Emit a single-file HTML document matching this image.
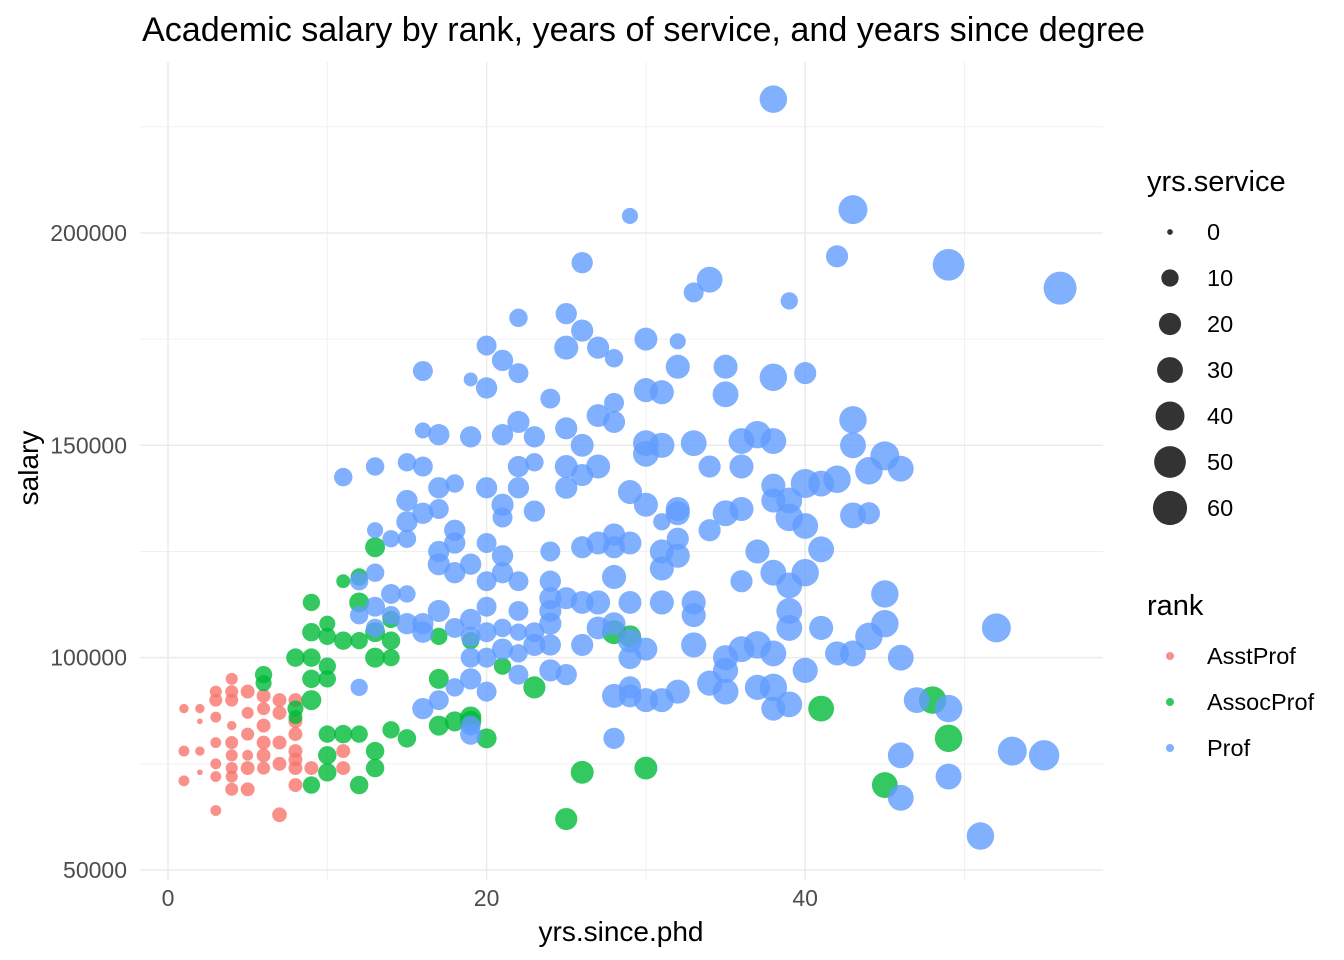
<!DOCTYPE html>
<html><head><meta charset="utf-8">
<style>
body{margin:0;background:#fff;}
svg{display:block;font-family:"Liberation Sans",sans-serif;}
</style></head>
<body>
<svg id="chart" width="1344" height="960">
<rect width="1344" height="960" fill="#fff"/>
<g id="grid"></g>
<g id="pts"></g>
<g id="axes"></g>
<text x="142" y="41" font-size="34" textLength="1003" lengthAdjust="spacingAndGlyphs" fill="#000">Academic salary by rank, years of service, and years since degree</text>
<text x="621" y="941" font-size="28" text-anchor="middle" fill="#000">yrs.since.phd</text>
<text transform="translate(38,468) rotate(-90)" font-size="28" text-anchor="middle" fill="#000">salary</text>
<g id="legend"></g>
</svg>
<script>
const xTicks=[0,20,40];
const yTicks=[50000,100000,150000,200000];
const sizeLegend=[0,10,20,30,40,50,60];
const ranks=["AsstProf","AssocProf","Prof"];
const rankColors=["#F8766D","#00BA38","#619CFF"];
const profPts=[[38,231.5,35],[43,205.5,40],[29,204,8],[49,192.5,50],[56,187,55],[42,194.5,20],[26,193,18],[34,189,30],[33,186,15],[39,184,10],[25,181,18],[22,180,12],[26,177,20],[27,173,20],[25,173,25],[20,173.5,15],[21,170,18],[30,175,22],[32,174.5,8],[28,170.5,12],[22,167,15],[16,167.5,15],[35,168.5,25],[32,168.5,25],[40,167,20],[38,166,35],[19,165.5,5],[20,163.5,18],[30,163,25],[31,162.5,25],[35,162,30],[24,161,15],[28,160,15],[25,154,20],[22,155.5,20],[21,152.5,18],[19,152,18],[17,152.5,18],[16,153.5,8],[23,152,18],[28,155.5,20],[27,157,22],[43,156,35],[30,150.5,30],[31,150,28],[33,150.5,30],[36,151,30],[37,152.5,35],[38,151,30],[43,150,30],[45,147.5,40],[46,144.5,30],[44,144,35],[42,142,35],[41,141,30],[40,141,40],[38,140.5,25],[36,145,25],[34,145,20],[30,148,30],[26,150,22],[25,145,22],[23,146,12],[22,145,18],[22,140,18],[25,140,20],[29,139,25],[30,136,25],[27,145,25],[26,143,20],[21,136,20],[20,140,18],[17,140,18],[18,141,12],[15,146,12],[16,145,15],[13,145,12],[11,142.5,12],[15,137,18],[16,134,18],[17,135,15],[15,132,18],[21,133,15],[23,134.5,18],[31,132,10],[32,135,25],[32,134,25],[34,130,20],[35,134,30],[36,135,25],[38,137,25],[39,137,30],[39,133,35],[40,131,30],[41,125.5,30],[43,133.5,30],[44,134,20],[13,130,8],[14,128,10],[15,128,12],[18,130,18],[18,127,18],[20,127,15],[21,124,18],[17,125,18],[17,122,20],[18,120,18],[19,122,18],[20,118,15],[21,120,18],[22,118,15],[24,125,15],[24,118,18],[26,126,20],[27,127,22],[28,126,20],[28,129,20],[29,127,22],[31,125,25],[32,128,20],[32,124,25],[31,121,25],[37,125,25],[38,120,30],[39,117,30],[40,120,35],[36,118,20],[28,119,25],[26,113,22],[27,113,25],[29,113,22],[31,113,25],[33,110,25],[33,113,25],[24,111,20],[24,108,20],[22,111,15],[20,112,15],[19,109,18],[17,111,20],[16,108,18],[15,108,18],[14,110,12],[13,112,15],[13,107,12],[12,110,12],[12,118,12],[13,120,12],[14,115,15],[15,115,10],[16,106,18],[18,107,15],[20,106,15],[21,107,12],[22,106,10],[23,103,20],[25,114,20],[24,114,20],[24,103,18],[26,103,20],[27,107,22],[28,108,22],[29,104,25],[30,102,22],[33,103,28],[35,100,28],[36,102,30],[37,103,35],[38,101,30],[39,111,30],[39,107,30],[40,97,28],[41,107,25],[42,101,25],[43,101,30],[44,105,35],[45,108,35],[45,115,35],[46,100,30],[47,90,30],[49,88,35],[46,77,30],[49,72,30],[46,67,30],[51,58,35],[53,78,40],[55,77,45],[52,107,40],[19,105,15],[19,100,15],[19,95,18],[18,93,12],[17,90,15],[16,88,18],[12,93,10],[20,92,15],[20,100,15],[21,102,18],[22,96,15],[25,96,18],[24,97,20],[28,91,25],[29,91,22],[30,90,25],[29,93,20],[31,90,25],[32,92,25],[34,94,28],[35,92,30],[37,93,28],[38,93,35],[38,88,25],[39,89,30],[28,81,18],[29,100,22],[35,97,28],[22,101,12],[23,106,15],[19,84,15],[19,82,18]];
const assocPts=[[13,126,15],[12,119,10],[11,118,5],[12,113,15],[9,113,10],[14,109,10],[10,108,8],[9,106,12],[11,104,12],[12,104,10],[13,106,15],[14,104,12],[10,105,10],[8,100,12],[9,100,12],[10,98,10],[13,100,15],[14,100,10],[10,95,10],[9,95,12],[6,96,10],[6,94,8],[9,90,15],[8,88,8],[8,86,5],[10,82,10],[11,82,12],[12,82,10],[10,77,12],[10,73,12],[9,70,10],[12,70,12],[13,74,12],[13,78,12],[14,83,10],[15,81,12],[17,84,15],[18,85,15],[19,86,18],[19,85,18],[20,81,15],[21,98,10],[17,95,15],[17,105,10],[19,104,10],[23,93,20],[28,106,25],[29,105,20],[25,62,20],[26,73,22],[30,74,22],[41,88,30],[45,70,30],[48,90,35],[49,81,35]];
const asstPts=[[1,88,1],[1,78,2],[1,71,2],[2,88,1],[2,85,0],[2,78,1],[2,73,0],[3,92,3],[3,90,4],[3,86,2],[3,80,2],[3,75,2],[3,72,2],[3,64,2],[4,95,3],[4,92,4],[4,90,4],[4,84,1],[4,80,4],[4,77,3],[4,74,3],[4,72,3],[4,69,4],[5,92,5],[5,87,3],[5,82,4],[5,77,2],[5,74,5],[5,69,5],[6,91,5],[6,88,4],[6,84,5],[6,80,5],[6,77,5],[6,74,4],[7,90,5],[7,87,5],[7,80,5],[7,75,5],[7,63,6],[8,90,5],[8,85,5],[8,82,5],[8,78,5],[8,76,5],[8,74,5],[8,70,5],[9,74,5],[11,78,5],[11,74,5]];

const NS="http://www.w3.org/2000/svg";
const X=v=>168+v*15.93;
const Y=v=>870-(v-50000)*0.004247;
const R=s=>2.85*(1+5*Math.sqrt(s/60));
const PL=140, PR=1103, PT=62, PB=880;
function mk(tag,attrs,parent){const e=document.createElementNS(NS,tag);for(const k in attrs)e.setAttribute(k,attrs[k]);parent.appendChild(e);return e;}
const grid=document.getElementById('grid');
[10,30,50].forEach(v=>{const l=mk('line',{x1:X(v),x2:X(v),y1:PT,y2:PB,stroke:'#f0f0f0','stroke-width':1},grid);

});
[75000,125000,175000,225000].forEach(v=>{const l=mk('line',{x1:PL,x2:PR,y1:Y(v),y2:Y(v),stroke:'#f0f0f0','stroke-width':1},grid);

});
xTicks.forEach(v=>{const l=mk('line',{x1:X(v),x2:X(v),y1:PT,y2:PB,stroke:'#ebebeb','stroke-width':1.5},grid);

});
yTicks.forEach(v=>{const l=mk('line',{x1:PL,x2:PR,y1:Y(v),y2:Y(v),stroke:'#ebebeb','stroke-width':1.5},grid);

});
const axes=document.getElementById('axes');
xTicks.forEach(v=>{const t=mk('text',{x:X(v),y:906,'font-size':23,'text-anchor':'middle',fill:'#4d4d4d'},axes);t.textContent=v;

});
yTicks.forEach(v=>{const t=mk('text',{x:127,y:Y(v)+8,'font-size':23,'text-anchor':'end',fill:'#4d4d4d'},axes);t.textContent=v;

});
const pts=document.getElementById('pts');
[[asstPts,0],[assocPts,1],[profPts,2]].forEach(([arr,ri])=>{
 arr.forEach(p=>{const c=mk('circle',{cx:X(p[0]),cy:Y(p[1]*1000),r:R(p[2]),fill:rankColors[ri],'fill-opacity':0.8},pts);
 
 });
});
const lg=document.getElementById('legend');
let t=mk('text',{x:1147,y:191,'font-size':29,fill:'#000'},lg);t.textContent='yrs.service';


sizeLegend.forEach((v,i)=>{const y=232+i*46;
 const c=mk('circle',{cx:1170,cy:y,r:R(v),fill:'#000','fill-opacity':0.8},lg);
 
 
 const tt=mk('text',{x:1207,y:y+8,'font-size':23.5,fill:'#000'},lg);tt.textContent=v;
 
 });
t=mk('text',{x:1147,y:615,'font-size':29,fill:'#000'},lg);t.textContent='rank';


ranks.forEach((r,i)=>{const y=656+i*46;
 const c=mk('circle',{cx:1170,cy:y,r:4,fill:rankColors[i],'fill-opacity':0.8},lg);
 
 
 const tt=mk('text',{x:1207,y:y+8,'font-size':23.5,fill:'#000'},lg);tt.textContent=r;
 
 });
</script>
</body></html>
